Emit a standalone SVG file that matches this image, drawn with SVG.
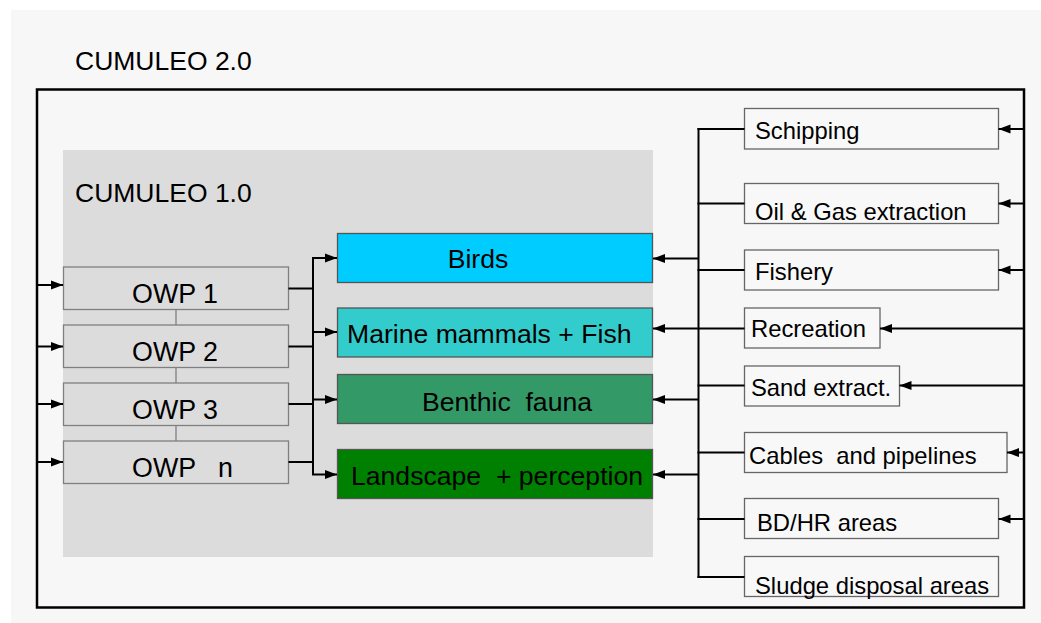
<svg xmlns="http://www.w3.org/2000/svg" width="1041" height="623" viewBox="0 0 1041 623">
<defs>
<marker id="ah" markerUnits="userSpaceOnUse" markerWidth="13" markerHeight="11" viewBox="0 0 13 11" refX="12" refY="5.5" orient="auto">
<path d="M0,1 L12,5.5 L0,10 Z" fill="#000"/>
</marker>
<style>
text{font-family:"Liberation Sans",Arial,sans-serif;fill:#000}
.t1{font-size:26.5px}
.owp rect{fill:#dcdcdc;stroke:#7f7f7f;stroke-width:1.3}
.owp text{font-size:26.8px;text-anchor:middle}
.eff rect{stroke:#555;stroke-width:1.3}
.eff text{font-size:26.6px}
.src rect{fill:#f8f8f8;stroke:#666;stroke-width:1.3}
.src text{font-size:23.8px}
.c{fill:none;stroke:#000;stroke-width:2}
.ca{fill:none;stroke:#000;stroke-width:2;marker-end:url(#ah)}
.thin{fill:none;stroke:#777;stroke-width:1.2}
</style>
</defs>
<rect x="0" y="0" width="1041" height="623" fill="#fff"/>
<rect x="11" y="10" width="1030" height="613" fill="#f7f7f7"/>
<g id="cumuleo2">
<rect x="37" y="89.5" width="987" height="518" fill="none" stroke="#000" stroke-width="2.5"/>
<text class="t1" x="75" y="70">CUMULEO 2.0</text>
</g>
<g id="cumuleo1">
<rect x="63" y="150" width="590" height="407" fill="#dcdcdc"/>
<text class="t1" x="75" y="202">CUMULEO 1.0</text>
</g>
<g id="owp-links">
<line class="thin" x1="176" y1="309" x2="176" y2="325"/>
<line class="thin" x1="176" y1="367" x2="176" y2="383"/>
<line class="thin" x1="176" y1="425" x2="176" y2="441"/>
</g>
<g id="owp1" class="owp"><rect x="63.5" y="267" width="225" height="42.5"/><text x="175" y="303">OWP 1</text></g>
<g id="owp2" class="owp"><rect x="63.5" y="325" width="225" height="42.5"/><text x="175" y="361">OWP 2</text></g>
<g id="owp3" class="owp"><rect x="63.5" y="383" width="225" height="42.5"/><text x="175" y="419">OWP 3</text></g>
<g id="owpn" class="owp"><rect x="63.5" y="441" width="225" height="42.5"/><text x="182.5" y="477" xml:space="preserve">OWP   n</text></g>
<g id="birds" class="eff"><rect x="337.5" y="233.5" width="315" height="49" fill="#00ccff"/><text x="478" y="268" text-anchor="middle">Birds</text></g>
<g id="marine" class="eff"><rect x="337.5" y="308" width="315" height="49" fill="#33cccc"/><text x="347" y="343">Marine mammals + Fish</text></g>
<g id="benthic" class="eff"><rect x="337.5" y="374.5" width="315" height="49" fill="#339966"/><text x="422" y="410.5" xml:space="preserve">Benthic  fauna</text></g>
<g id="landscape" class="eff"><rect x="337.5" y="449.5" width="315" height="49" fill="#008000"/><text x="351" y="485" xml:space="preserve">Landscape  + perception</text></g>
<g id="schipping" class="src"><rect x="744.5" y="108.5" width="254" height="40.5"/><text x="755" y="139">Schipping</text></g>
<g id="oilgas" class="src"><rect x="744.5" y="183.5" width="254" height="40"/><text x="755" y="219.5">Oil &amp; Gas extraction</text></g>
<g id="fishery" class="src"><rect x="744.5" y="250" width="254" height="40"/><text x="755" y="279.5">Fishery</text></g>
<g id="recreation" class="src"><rect x="744.5" y="308" width="135.5" height="40"/><text x="751" y="337">Recreation</text></g>
<g id="sand" class="src"><rect x="744.5" y="366" width="155" height="40"/><text x="751" y="396">Sand extract.</text></g>
<g id="cables" class="src"><rect x="744.5" y="432.5" width="262.5" height="40"/><text x="749" y="463.5" xml:space="preserve">Cables  and pipelines</text></g>
<g id="bdhr" class="src"><rect x="744.5" y="498.5" width="254" height="40"/><text x="757" y="531">BD/HR areas</text></g>
<g id="sludge" class="src"><rect x="744.5" y="556.5" width="254" height="40"/><text x="755" y="593.5">Sludge disposal areas</text></g>
<g id="connectors">
<path class="ca" d="M37,285 H63"/>
<path class="ca" d="M37,346.5 H63"/>
<path class="ca" d="M37,404 H63"/>
<path class="ca" d="M37,462 H63"/>
<path class="c" d="M288.5,288.5 H313" stroke-width="3"/>
<path class="c" d="M288.5,346.5 H313"/>
<path class="c" d="M288.5,404 H313"/>
<path class="c" d="M288.5,462 H313"/>
<path class="c" d="M313,258 V474.5"/>
<path class="ca" d="M312,258 H337"/>
<path class="ca" d="M312,332 H337"/>
<path class="ca" d="M312,399.5 H337"/>
<path class="ca" d="M312,474.5 H337"/>
<path class="c" d="M698.5,128 V578"/>
<path class="c" d="M697.5,129 H744.5"/>
<path class="c" d="M697.5,203.5 H744.5"/>
<path class="c" d="M697.5,270 H744.5"/>
<path class="c" d="M697.5,385.5 H744.5"/>
<path class="c" d="M697.5,452.5 H744.5"/>
<path class="c" d="M697.5,519 H744.5"/>
<path class="c" d="M697.5,577 H744.5"/>
<path class="ca" d="M699,258.5 H653" stroke-width="3"/>
<path class="ca" d="M744.5,328.5 H653"/>
<path class="ca" d="M699,399.5 H653"/>
<path class="ca" d="M699,474.5 H653"/>
<path class="ca" d="M1024,129 H998.5"/>
<path class="ca" d="M1024,203.5 H998.5"/>
<path class="ca" d="M1024,270 H998.5"/>
<path class="ca" d="M1024,328.5 H880"/>
<path class="ca" d="M1024,385.5 H899.5"/>
<path class="ca" d="M1024,452.5 H1007"/>
<path class="ca" d="M1024,519 H998.5"/>
</g>
</svg>
